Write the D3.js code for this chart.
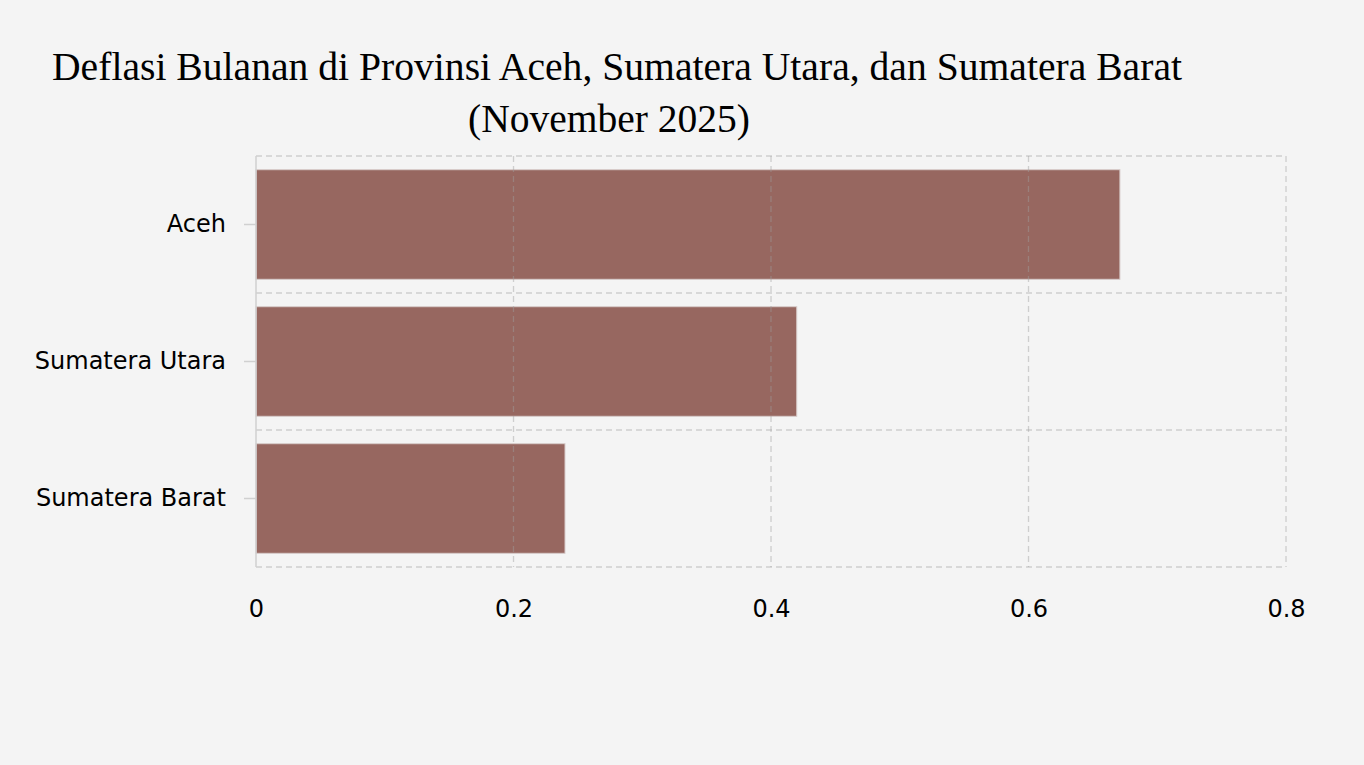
<!DOCTYPE html>
<html><head><meta charset="utf-8">
<script src="https://cdn.jsdelivr.net/npm/d3@7"></script>
<style>body{margin:0;background:#f4f4f4;}svg{display:block;}</style>
</head><body>
<script>
const categories = ["Aceh", "Sumatera Utara", "Sumatera Barat"];
const values = [0.671, 0.42, 0.24];
const xTicks = [0, 0.2, 0.4, 0.6, 0.8];
const titleLines = ["Deflasi Bulanan di Provinsi Aceh, Sumatera Utara, dan Sumatera Barat", "(November 2025)"];

const W = 1364, H = 765;
const m = {left: 256, right: 1286, top: 156, bottom: 567};
const svg = d3.select("body").append("svg").attr("width", W).attr("height", H);
svg.append("rect").attr("width", W).attr("height", H).attr("fill", "#f4f4f4");

const x = d3.scaleLinear().domain([0, 0.8]).range([m.left, m.right]);
const y = d3.scaleBand().domain(categories).range([m.top, m.bottom]).paddingInner(0.2).paddingOuter(0.1);

// title
svg.append("text").attr("x", 617).attr("y", 80).attr("text-anchor", "middle")
  .attr("font-family", "Liberation Serif, Times New Roman, serif").attr("font-size", 39)
  .attr("textLength", 1130).attr("lengthAdjust", "spacingAndGlyphs")
  .attr("fill", "#000").text(titleLines[0]);
svg.append("text").attr("x", 609).attr("y", 132).attr("text-anchor", "middle")
  .attr("font-family", "Liberation Serif, Times New Roman, serif").attr("font-size", 39)
  .attr("textLength", 282).attr("lengthAdjust", "spacingAndGlyphs")
  .attr("fill", "#000").text(titleLines[1]);

// bars
svg.append("g").selectAll("rect").data(categories).join("rect")
  .attr("x", x(0)).attr("y", d => y(d))
  .attr("width", (d, i) => x(values[i]) - x(0)).attr("height", y.bandwidth())
  .attr("fill", "#976760").attr("stroke", "#d8cccb").attr("stroke-width", 1);

const grid = svg.append("g").attr("stroke", "rgba(160,160,160,0.45)").attr("stroke-width", 1.3)
  .attr("stroke-dasharray", "6,4").attr("fill", "none");
// vertical gridlines
grid.selectAll("line.v").data(xTicks.slice(1)).join("line").attr("class", "v")
  .attr("x1", d => x(d)).attr("x2", d => x(d)).attr("y1", m.top).attr("y2", m.bottom);
// horizontal boundaries
const bounds = [m.top].concat(categories.slice(1).map(c => y(c) - y.step() * y.paddingInner() / 2)).concat([m.bottom]);
grid.selectAll("line.h").data(bounds).join("line").attr("class", "h")
  .attr("x1", m.left).attr("x2", m.right).attr("y1", d => d).attr("y2", d => d);

// left axis line
svg.append("line").attr("x1", m.left).attr("x2", m.left).attr("y1", m.top).attr("y2", m.bottom)
  .attr("stroke", "#d0d0d0").attr("stroke-width", 1.5);

// y axis
const yAxis = svg.append("g").attr("transform", `translate(${m.left},0)`)
  .call(d3.axisLeft(y).tickSize(12).tickPadding(18));
yAxis.select(".domain").remove();
yAxis.selectAll(".tick line").attr("stroke", "#d0d0d0").attr("stroke-width", 1.5);
yAxis.selectAll("text").attr("font-family", "DejaVu Sans, Verdana, sans-serif").attr("font-size", 24).attr("fill", "#000");

// x axis
const xAxis = svg.append("g").attr("transform", `translate(0,${m.bottom})`)
  .call(d3.axisBottom(x).tickValues(xTicks).tickFormat(d => d === 0 ? "0" : d3.format(".1f")(d)).tickSize(0).tickPadding(33));
xAxis.select(".domain").remove();
xAxis.selectAll("text").attr("font-family", "DejaVu Sans, Verdana, sans-serif").attr("font-size", 24).attr("fill", "#000");
</script>
</body></html>
